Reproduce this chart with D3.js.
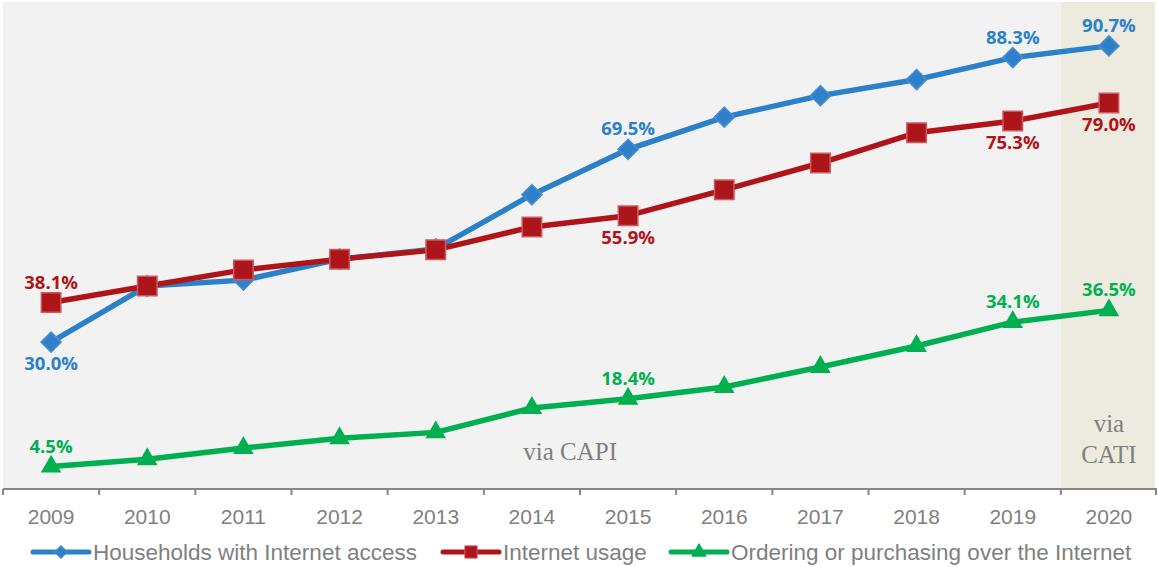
<!DOCTYPE html>
<html>
<head>
<meta charset="utf-8">
<script src="https://cdn.jsdelivr.net/npm/d3@7"></script>
<style>
  html, body { margin: 0; padding: 0; background: #ffffff; }
  svg { display: block; }
</style>
</head>
<body>
<svg id="chart" width="1158" height="567"></svg>
<script>
const years = ["2009","2010","2011","2012","2013","2014","2015","2016","2017","2018","2019","2020"];
const households = [30.0, 41.5, 42.7, 47.0, 49.1, 60.2, 69.5, 76.1, 80.5, 83.8, 88.3, 90.7];
const usage      = [38.1, 41.5, 44.8, 47.0, 48.9, 53.6, 55.9, 61.2, 66.7, 72.9, 75.3, 79.0];
const ordering   = [4.5, 6.0, 8.3, 10.3, 11.5, 16.5, 18.4, 20.8, 24.9, 29.2, 34.1, 36.5];
const seriesNames = ["Households with Internet access", "Internet usage", "Ordering or purchasing over the Internet"];
// labels: [seriesIndex, yearIndex, position]
const labelSpecs = [
  [0, 0, "below"], [0, 6, "above"], [0, 10, "above"], [0, 11, "above"],
  [1, 0, "above"], [1, 6, "below"], [1, 10, "below"], [1, 11, "below"],
  [2, 0, "above"], [2, 6, "above"], [2, 10, "above"], [2, 11, "above"]
];

(function () {
const svg = d3.select("#chart");
const pLeft = 3, pRight = 1157, pTop = 2, pBottom = 489;

const x = d3.scaleBand().domain(years).range([pLeft, pRight]).paddingInner(0).paddingOuter(0);
const y = d3.scaleLinear().domain([0, 100]).range([488.5, 0.5]);
const cx = d => x(d) + x.bandwidth() / 2;

// backgrounds
svg.append("rect").attr("x", pLeft).attr("y", pTop)
  .attr("width", x("2020") - pLeft).attr("height", pBottom - pTop).attr("fill", "#f2f2f2");
svg.append("rect").attr("x", x("2020")).attr("y", pTop)
  .attr("width", pRight - 2 - x("2020")).attr("height", pBottom - pTop).attr("fill", "#edeae0");

// axis
const gAxis = svg.append("g").attr("transform", `translate(0,${pBottom})`);
gAxis.append("line").attr("x1", pLeft).attr("x2", pRight).attr("y1", 0).attr("y2", 0)
  .attr("stroke", "#868686").attr("stroke-width", 2);
const boundaries = years.map(d => x(d)).concat([pRight - 1]);
gAxis.selectAll("line.tick").data(boundaries).join("line").attr("class", "tick")
  .attr("x1", d => d).attr("x2", d => d).attr("y1", 0).attr("y2", 6)
  .attr("stroke", "#868686").attr("stroke-width", 2);
gAxis.selectAll("text.lab").data(years).join("text").attr("class", "lab")
  .attr("x", d => cx(d)).attr("y", 35)
  .attr("text-anchor", "middle")
  .attr("font-family", "'Liberation Sans', Arial, sans-serif")
  .attr("font-size", 21).attr("fill", "#7f7f7f").text(d => d);

// method annotations
const serif = "'Liberation Serif', 'Times New Roman', serif";
svg.append("text").attr("x", cx("2015") - 58).attr("y", 460).attr("text-anchor", "middle")
  .attr("font-family", serif).attr("font-size", 25).attr("fill", "#7f7f7f").text("via CAPI");
svg.append("text").attr("x", cx("2020")).attr("y", 432).attr("text-anchor", "middle")
  .attr("font-family", serif).attr("font-size", 25).attr("fill", "#7f7f7f").text("via");
svg.append("text").attr("x", cx("2020")).attr("y", 463).attr("text-anchor", "middle")
  .attr("font-family", serif).attr("font-size", 25).attr("fill", "#7f7f7f").text("CATI");

const series = [
  { name: seriesNames[0], values: households, color: "#2a81c9", marker: "diamond", fill: "#2e80c8", stroke: "#4b8fd0", textColor: "#2a81c9" },
  { name: seriesNames[1], values: usage, color: "#b01419", marker: "square", fill: "#ac1519", stroke: "#cd5a5e", textColor: "#b01419" },
  { name: seriesNames[2], values: ordering, color: "#00b050", marker: "triangle", fill: "#00b050", stroke: "#00b050", textColor: "#00b050" }
];

const line = d3.line().x((d, i) => cx(years[i])).y(d => y(d));

function markerPath(type, size) {
  if (type === "diamond") return d3.symbol(d3.symbolDiamond2, size)();
  if (type === "square") return d3.symbol(d3.symbolSquare, size)();
  return d3.symbol(d3.symbolTriangle, size)();
}

series.forEach(s => {
  svg.append("path").datum(s.values).attr("d", line)
    .attr("fill", "none").attr("stroke", s.color).attr("stroke-width", 5.5)
    .attr("stroke-linejoin", "round");
});

series.forEach(s => {
  const size = s.marker === "diamond" ? 260 : s.marker === "square" ? 380 : 140;
  svg.selectAll(null).data(s.values).join("path")
    .attr("transform", (d, i) => `translate(${cx(years[i])},${y(d)})`)
    .attr("d", markerPath(s.marker, size))
    .attr("fill", s.fill).attr("stroke", s.stroke).attr("stroke-width", 1.5);
});

// data labels
const labelFont = "'Open Sans', 'Noto Sans', sans-serif";
labelSpecs.forEach(([si, yi, pos]) => {
  const s = series[si];
  const v = s.values[yi];
  const py = y(v);
  svg.append("text")
    .attr("x", cx(years[yi]))
    .attr("y", pos === "above" ? py - 14 : py + 28)
    .attr("text-anchor", "middle")
    .attr("font-family", labelFont).attr("font-weight", "bold")
    .attr("font-size", 18.5).attr("fill", s.textColor)
    .text(v.toFixed(1) + "%");
});

// legend
const legendX = [33, 443, 671];
const ly = 552;
series.forEach((s, i) => {
  const g = svg.append("g").attr("transform", `translate(${legendX[i]},${ly})`);
  g.append("line").attr("x1", 0).attr("x2", 56).attr("y1", 0).attr("y2", 0)
    .attr("stroke", s.color).attr("stroke-width", 5).attr("stroke-linecap", "round");
  const size = s.marker === "diamond" ? 110 : s.marker === "square" ? 150 : 90;
  g.append("path").attr("transform", "translate(28,0)").attr("d", markerPath(s.marker, size))
    .attr("fill", s.fill).attr("stroke", s.stroke).attr("stroke-width", 1);
  g.append("text").attr("x", 60).attr("y", 8)
    .attr("font-family", "'Liberation Sans', Arial, sans-serif")
    .attr("font-size", 22.5).attr("fill", "#7f7f7f").text(s.name);
});
})();
</script>
</body>
</html>
